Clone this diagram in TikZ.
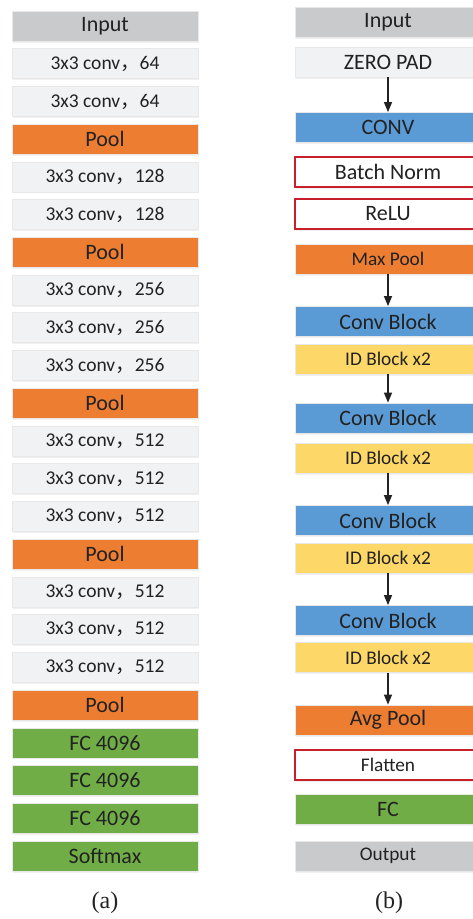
\documentclass[tikz,border=0pt]{standalone}
\usepackage{fontspec}
\newfontfamily\cali{Carlito}
\newfontfamily\capfont{Liberation Serif}
\newfontfamily\cjk{Noto Sans CJK SC}
\usetikzlibrary{arrows.meta,shadows}

\definecolor{ingray}{HTML}{C9CACB}
\definecolor{convgray}{HTML}{F1F2F4}
\definecolor{poolorange}{HTML}{ED7D31}
\definecolor{blockblue}{HTML}{5B9BD5}
\definecolor{idyellow}{HTML}{FDD767}
\definecolor{fcgreen}{HTML}{70AD47}
\definecolor{normred}{HTML}{C8202A}
\definecolor{txt}{HTML}{222222}

\newcommand{\fwc}{{\cjk ，}}
\newcommand{\bigsz}{\cali\fontsize{22}{24}\selectfont}
\newcommand{\smsz}{\cali\fontsize{19.3}{22}\selectfont}

\tikzset{
  blk/.style={minimum width=186pt, minimum height=30pt, inner sep=0pt, text=txt,
    draw=white!82!gray, line width=0.8pt,
    drop shadow={shadow xshift=1pt, shadow yshift=-1.5pt, opacity=0.12, fill=gray}},
  inbox/.style={blk, fill=ingray},
  convbox/.style={blk, fill=convgray, font=\cali\fontsize{19.5}{22}\selectfont},
  poolbox/.style={blk, fill=poolorange},
  fcbox/.style={blk, fill=fcgreen, font=\bigsz},
  cbbox/.style={blk, fill=blockblue, font=\bigsz},
  idbox/.style={blk, fill=idyellow, font=\smsz},
  redbox/.style={blk, fill=white, draw=normred, line width=2pt},
  flow/.style={-{Triangle[length=10pt,width=8pt]}, line width=1.3pt, draw=txt},
  capt/.style={font=\capfont\fontsize{24}{26}\selectfont, text=txt}
}

\begin{document}
\begin{tikzpicture}[x=1pt,y=-1pt]

\useasboundingbox (0,0) rectangle (472,919);

% (a) VGG-16
\node[inbox, font=\bigsz] (a1) at (105,26.0) {Input};
\node[convbox] (a2) at (105,63.7) {3x3 conv\fwc 64};
\node[convbox] (a3) at (105,101.5) {3x3 conv\fwc 64};
\node[poolbox, font=\bigsz] (a4) at (105,139.2) {Pool};
\node[convbox] (a5) at (105,176.9) {3x3 conv\fwc 128};
\node[convbox] (a6) at (105,214.7) {3x3 conv\fwc 128};
\node[poolbox, font=\bigsz] (a7) at (105,252.4) {Pool};
\node[convbox] (a8) at (105,290.1) {3x3 conv\fwc 256};
\node[convbox] (a9) at (105,327.8) {3x3 conv\fwc 256};
\node[convbox] (a10) at (105,365.6) {3x3 conv\fwc 256};
\node[poolbox, font=\bigsz] (a11) at (105,403.3) {Pool};
\node[convbox] (a12) at (105,441.0) {3x3 conv\fwc 512};
\node[convbox] (a13) at (105,478.8) {3x3 conv\fwc 512};
\node[convbox] (a14) at (105,516.5) {3x3 conv\fwc 512};
\node[poolbox, font=\bigsz] (a15) at (105,554.2) {Pool};
\node[convbox] (a16) at (105,592.0) {3x3 conv\fwc 512};
\node[convbox] (a17) at (105,629.7) {3x3 conv\fwc 512};
\node[convbox] (a18) at (105,667.4) {3x3 conv\fwc 512};
\node[poolbox, font=\bigsz] (a19) at (105,705.2) {Pool};
\node[fcbox] (a20) at (105,742.9) {FC 4096};
\node[fcbox] (a21) at (105,780.6) {FC 4096};
\node[fcbox] (a22) at (105,818.3) {FC 4096};
\node[fcbox] (a23) at (105,856.0) {Softmax};
\node[capt] (capa) at (105,903) {(a)};

% (b) ResNet
\node[inbox, font=\bigsz] (inb) at (388,22) {Input};
\node[convbox, font=\bigsz] (zpad) at (388,62) {ZERO PAD};
\node[cbbox] (conv) at (388,127.5) {CONV};
\node[redbox, font=\bigsz] (bnorm) at (388,172) {Batch Norm};
\node[redbox, font=\bigsz] (relu) at (388,214) {ReLU};
\node[poolbox, font=\smsz] (mpool) at (388,259) {Max Pool};
\node[cbbox] (cb1) at (388,321.5) {Conv Block};
\node[idbox] (id1) at (388,359) {ID Block x2};
\node[cbbox] (cb2) at (388,418) {Conv Block};
\node[idbox] (id2) at (388,458) {ID Block x2};
\node[cbbox] (cb3) at (388,520.5) {Conv Block};
\node[idbox] (id3) at (388,558) {ID Block x2};
\node[cbbox] (cb4) at (388,620.5) {Conv Block};
\node[idbox] (id4) at (388,657.5) {ID Block x2};
\node[poolbox, font=\bigsz] (avgp) at (388,720) {Avg Pool};
\node[redbox, font=\smsz] (flat) at (388,765) {Flatten};
\node[fcbox] (fc) at (388,809) {FC};
\node[inbox, font=\smsz] (outb) at (388,856) {Output};
\node[capt] (capb) at (389,903) {(b)};

\draw[flow] (zpad) -- (conv);
\draw[flow] (mpool) -- (cb1);
\draw[flow] (id1) -- (cb2);
\draw[flow] (id2) -- (cb3);
\draw[flow] (id3) -- (cb4);
\draw[flow] (id4) -- (avgp);

\end{tikzpicture}
\end{document}
